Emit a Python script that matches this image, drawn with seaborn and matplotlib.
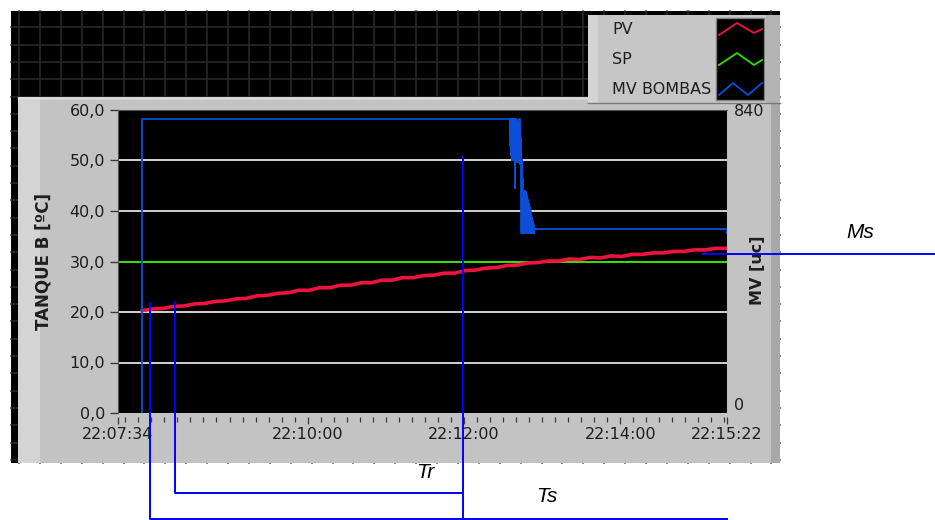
import matplotlib
matplotlib.use("Agg")
import numpy as np
import matplotlib.pyplot as plt
from matplotlib.patches import Rectangle
from matplotlib.ticker import FixedLocator
import seaborn as sns

plt.rcParams["path.simplify"] = False

# ---- axis definitions (time in seconds after 22:07:34) ----
x_tick_seconds = [0, 146, 266, 386, 468]
x_tick_labels = ["22:07:34", "22:10:00", "22:12:00", "22:14:00", "22:15:22"]
x_minor_seconds = [6, 16, 26, 36, 46, 56, 66, 76, 86, 96, 106, 116, 126, 136, 146,
                   156, 166, 176, 186, 196, 206, 216, 226, 236, 246, 256, 266, 276,
                   286, 296, 306, 316, 326, 336, 346, 356, 366, 376, 386, 396, 406,
                   416, 426, 436, 446, 456, 466]
y_ticks = [0, 10, 20, 30, 40, 50, 60]
y_tick_labels = ["0,0", "10,0", "20,0", "30,0", "40,0", "50,0", "60,0"]
mv_ticks = [0, 840]
mv_tick_labels = ["0", "840"]

series_names = ["PV", "SP", "MV BOMBAS"]
series_colors = ["#f0123e", "#36dc00", "#0c4ed8"]

# ---- process variable: tank B temperature ----
pv_time = [19, 27, 35, 43, 51, 59, 67, 75, 83, 91, 99, 107, 115, 123, 131, 139,
           147, 155, 163, 171, 179, 187, 195, 203, 211, 219, 227, 235, 243, 251,
           259, 267, 275, 283, 291, 299, 307, 315, 323, 331, 339, 347, 355, 363,
           371, 379, 387, 395, 403, 411, 419, 427, 435, 443, 451, 459, 467]
pv_temp = [20.3, 20.6, 20.7, 21.1, 21.2, 21.6, 21.7, 22.1, 22.2, 22.6, 22.7, 23.2,
           23.3, 23.7, 23.8, 24.3, 24.3, 24.8, 24.8, 25.3, 25.3, 25.8, 25.8, 26.3,
           26.3, 26.8, 26.8, 27.2, 27.3, 27.7, 27.7, 28.2, 28.3, 28.7, 28.8, 29.2,
           29.3, 29.7, 29.8, 30.1, 30.1, 30.5, 30.4, 30.8, 30.7, 31.1, 31.0, 31.4,
           31.4, 31.7, 31.7, 32.0, 32.0, 32.3, 32.3, 32.6, 32.6]

# ---- set point ----
sp_time = [0, 468]
sp_temp = [30.0, 30.0]

# ---- manipulated variable: pump output ----
mv_time = [18.8, 19,
           301.0, 301.3, 301.6, 301.9, 302.2, 302.5, 302.8, 303.1, 303.4, 303.7,
           304.0, 304.3, 304.6, 304.9, 305.2, 305.5, 305.8, 306.1, 306.4, 306.7,
           307.0, 307.3, 307.6, 307.9, 308.2, 308.5, 308.8, 309.1, 309.4, 309.7,
           310.0, 310.3, 310.6, 310.9, 311.2, 311.5, 311.8, 312.1, 312.4, 312.7,
           313.0, 313.3, 313.6, 313.9, 314.2, 314.5, 314.8, 315.1, 315.4, 315.7,
           316.0, 316.3, 316.6, 316.9, 317.2, 317.5, 317.8, 318.1, 318.4, 318.7,
           319.0, 319.3, 319.6, 319.9, 468]
mv_value = [0, 815,
            770, 815, 740, 815, 715, 815, 700, 815, 705, 815,
            700, 815, 700, 815, 625, 815, 700, 812, 700, 808,
            695, 805, 700, 800, 695, 815, 690, 790, 700, 760,
            500, 700, 500, 650, 500, 605, 500, 612, 500, 615,
            500, 612, 500, 605, 500, 598, 500, 590, 500, 580,
            500, 570, 500, 560, 500, 550, 500, 540, 500, 530,
            500, 520, 500, 510, 500]

# ---- response annotations (left-axis units) ----
ts_start, tr_start, t_settle, t_end = 25.3, 44.5, 265.3, 468
ts_top, tr_top, settle_top = 21.8, 22.0, 50.7
tr_level, ts_level = -15.8, -21.0
ms_start, ms_stop, ms_level = 449.5, 640, 31.5

W, H = 935, 520
fig = plt.figure(figsize=(W / 100, H / 100), dpi=100)
fig.patch.set_facecolor("white")

# ---- front-panel background drawn in pixel space ----
bg = fig.add_axes([0, 0, 1, 1], zorder=-5)
bg.set_xlim(0, W)
bg.set_ylim(H, 0)
bg.axis("off")
bg.add_patch(Rectangle((11, 11), 769, 452, color="black", lw=0, zorder=0))
for gx in np.arange(19, 780, 20.9):
    bg.plot([gx, gx], [11, 463], color="#2a2a2a", lw=1.1, zorder=0.5)
for gy in np.arange(27.3, 463, 17.3):
    bg.plot([11, 780], [gy, gy], color="#2a2a2a", lw=1.1, zorder=0.5)
bg.add_patch(Rectangle((18, 97), 762, 366, color="#c3c3c3", lw=0, zorder=1))
bg.add_patch(Rectangle((18, 97), 22, 366, color="#d4d4d4", lw=0, zorder=1.1))
bg.add_patch(Rectangle((771, 97), 9, 366, color="#a8a8a8", lw=0, zorder=1.1))
bg.plot([18, 780], [97.5, 97.5], color="#e2e2e2", lw=1, zorder=1.2)

# legend panel
bg.add_patch(Rectangle((588, 15), 192, 88, color="#c6c6c6", lw=0, zorder=2))
bg.add_patch(Rectangle((588, 15), 10, 88, color="#d4d4d4", lw=0, zorder=2.1))
bg.add_patch(Rectangle((766, 15), 14, 88, color="#b4b4b4", lw=0, zorder=2.1))
bg.plot([588, 780], [103, 103], color="#7a7a7a", lw=1, zorder=2.2)
bg.add_patch(Rectangle((716, 18), 48, 82, facecolor="black", edgecolor="#7c7c7c",
                       lw=1, zorder=2.3))
zig_x = [[719, 737, 754, 762], [719, 737, 754, 762], [719, 733, 748, 762]]
zig_y = [[35, 23, 33, 29], [65, 53, 65, 60], [95, 83, 95, 83]]
for i, name in enumerate(series_names):
    bg.text(612, 29 + 30 * i, name, fontsize=11.5, color="#1e1e1e", va="center",
            ha="left", zorder=3)
    bg.plot(zig_x[i], zig_y[i], color=series_colors[i], lw=1.3, zorder=3)

# ---- chart ----
ax = fig.add_axes([117.5 / W, (H - 413) / H, 609.5 / W, 303 / H])
ax.set_facecolor("black")
ax2 = ax.twinx()

sns.lineplot(x=sp_time, y=sp_temp, ax=ax, color=series_colors[1], linewidth=1.4,
             estimator=None, sort=False)
sns.lineplot(x=pv_time, y=pv_temp, ax=ax, color=series_colors[0], linewidth=2.6,
             estimator=None, sort=False)
sns.lineplot(x=mv_time, y=mv_value, ax=ax2, color=series_colors[2], linewidth=1.3,
             estimator=None, sort=False, drawstyle="steps-post")

ax.set_ylim(0, 60)
ax2.set_ylim(0, 840)
ax.set_xlim(0, 468)

ax.set_yticks(y_ticks)
ax.set_yticklabels(y_tick_labels)
ax.set_xticks(x_tick_seconds)
ax.set_xticklabels(x_tick_labels)
ax.xaxis.set_minor_locator(FixedLocator(x_minor_seconds))
ax2.set_yticks(mv_ticks)
ax2.set_yticklabels(mv_tick_labels)

ax.yaxis.grid(True, color="#d2d2d2", lw=1.4)
ax.xaxis.grid(False)
for tk in (ax.yaxis.get_major_ticks()[0], ax.yaxis.get_major_ticks()[-1]):
    tk.gridline.set_visible(False)

txt = "#1e1e1e"
ax.tick_params(axis="y", length=6, width=1, color="#3a3a3a", pad=3,
               labelsize=11.5, labelcolor=txt)
ax.tick_params(axis="x", which="major", length=5, width=0.9, color="#3a3a3a",
               pad=2, labelsize=11.5, labelcolor=txt)
ax.tick_params(axis="x", which="minor", length=3.5, width=0.9, color="#3a3a3a")
ax2.tick_params(axis="y", length=0, pad=5, labelsize=11.5, labelcolor=txt)
ax2.yaxis.get_major_ticks()[0].label2.set_verticalalignment("bottom")

ax.spines["top"].set_color("#555555")
ax.spines["left"].set_color("#555555")
ax.spines["right"].set_color("#bdbdbd")
ax.spines["bottom"].set_position(("outward", 3))
ax.spines["bottom"].set_visible(False)
for s in ax2.spines.values():
    s.set_visible(False)

ax.set_xlabel("")
ax.set_ylabel("TANQUE B [ºC]", fontsize=12, fontweight="bold", color=txt)
ax.yaxis.set_label_coords(-0.106, 0.5)
ax2.set_ylabel("MV [uc]", fontsize=11.5, fontweight="bold", color=txt)
ax2.yaxis.set_label_coords(1.037, 0.47)

# ---- rise / settling annotations ----
ann = dict(color="#0000ff", lw=1.4, transform=ax.transData, clip_on=False, zorder=20)
ax2.plot([ts_start, ts_start, t_end], [ts_top, ts_level, ts_level], **ann)
ax2.plot([tr_start, tr_start, t_settle], [tr_top, tr_level, tr_level], **ann)
ax2.plot([t_settle, t_settle], [settle_top, ts_level], **ann)
ax2.plot([ms_start, ms_stop], [ms_level, ms_level], **ann)
lab = dict(transform=ax.transData, fontsize=15, style="italic", family="Liberation Sans",
           color="black", ha="center", va="center", clip_on=False, zorder=21)
ax2.text(236, -11.7, "Tr", **lab)
ax2.text(330, -16.6, "Ts", **lab)
ax2.text(570, 35.8, "Ms", **lab)

ax.set_xlim(0, 468)
ax2.set_ylim(0, 840)

fig.savefig("out.png", dpi=100)
